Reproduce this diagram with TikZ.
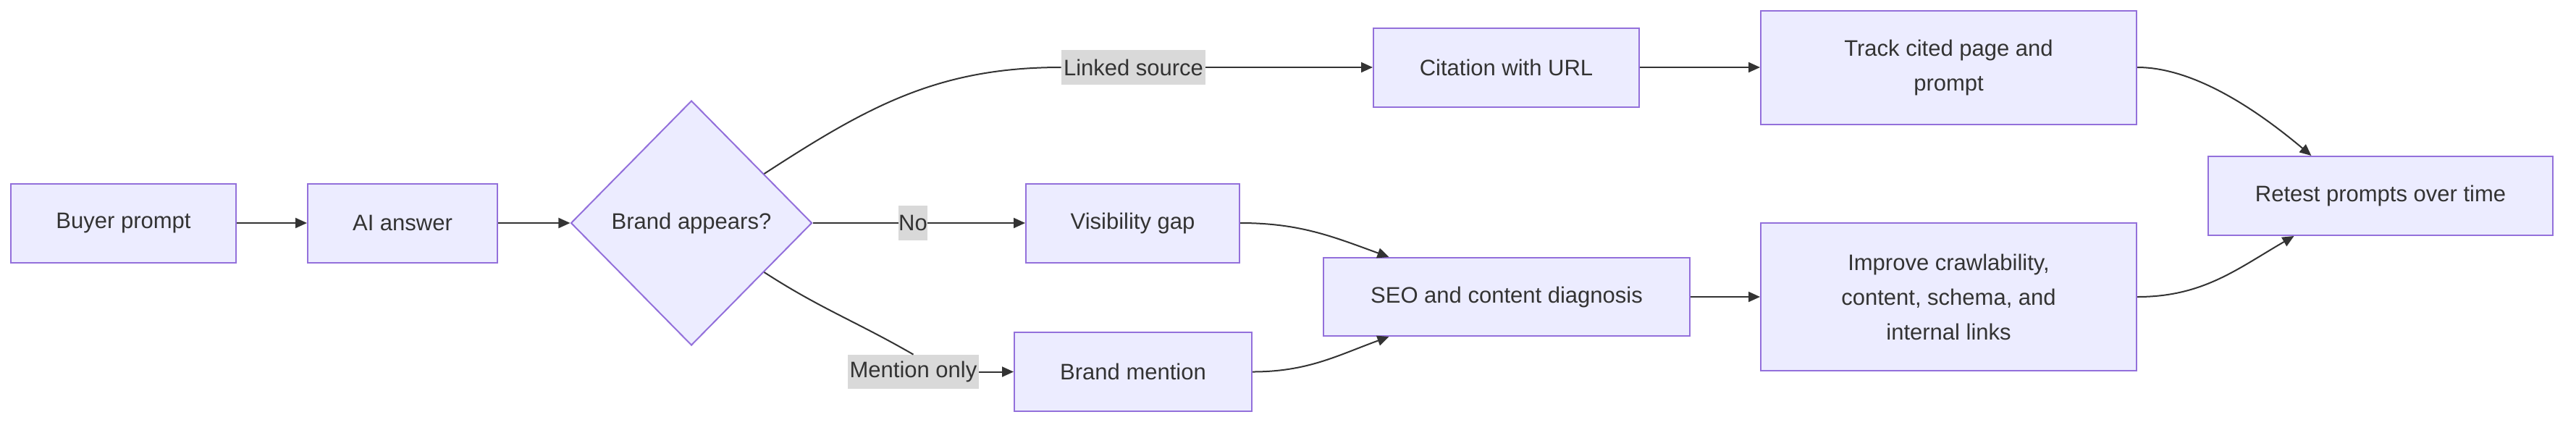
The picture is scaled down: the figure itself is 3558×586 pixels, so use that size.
\documentclass[tikz,border=0pt]{standalone}
\usepackage{fontspec}
\setmainfont{Liberation Sans}
\usetikzlibrary{shapes.geometric,arrows.meta,calc}
\definecolor{boxfill}{HTML}{ECECFF}
\definecolor{boxline}{HTML}{9370DB}
\definecolor{ink}{HTML}{333333}
\definecolor{labelfill}{HTML}{D9D9D9}

\begin{document}
\begin{tikzpicture}[x=0.5pt,y=-0.5pt,
        font=\fontsize{15.5}{24}\selectfont, text=ink,
        box/.style={draw=boxline,fill=boxfill,line width=1pt,inner sep=0pt,align=center},
        lbl/.style={fill=labelfill,inner sep=0pt},
        ln/.style={draw=ink,line width=1pt},
        arr/.style={ln,-{Triangle[length=8pt,width=7pt]}}]
        \useasboundingbox (0,0) rectangle (3558,586);
        % main row
        \node[box,minimum width=155.5pt,minimum height=54.5pt] (buyer) at (170.5,308) {Buyer prompt};
        \node[box,minimum width=131pt,minimum height=54.5pt] (ai) at (556,308) {AI answer};
        \node[box,diamond,minimum width=166.5pt,minimum height=169pt] (brand) at (955,308) {Brand appears?};
        % branches
        \node[lbl,minimum width=99.5pt,minimum height=24pt] (linked) at (1565.5,93) {Linked source};
        \node[lbl,minimum width=20pt,minimum height=24pt] (no) at (1261,308) {No};
        \node[lbl,minimum width=90.5pt,minimum height=23.5pt] (mention) at (1261.5,513.5) {Mention only};
        \node[box,minimum width=183.5pt,minimum height=54.5pt] (cite) at (2080.5,93) {Citation with URL};
        \node[box,minimum width=147.5pt,minimum height=54.5pt] (vis) at (1564.5,308) {Visibility gap};
        \node[box,minimum width=164pt,minimum height=54.5pt] (bmention) at (1565,513.5) {Brand mention};
        \node[box,minimum width=253pt,minimum height=54pt] (seo) at (2081,410) {SEO and content diagnosis};
        \node[box,minimum width=259.5pt,minimum height=78.5pt] (track) at (2691.5,93) {Track cited page and\\prompt};
        \node[box,minimum width=259.5pt,minimum height=102pt] (improve) at (2691.5,410) {Improve crawlability,\\content, schema, and\\internal links};
        \node[box,minimum width=238pt,minimum height=54.5pt] (retest) at (3288,270.5) {Retest prompts over time};

        \draw[arr] (buyer) -- (ai);
        \draw[arr] (ai) -- (brand);
        \draw[ln] ($(brand.north)!0.6!(brand.east)$) to[out=33,in=180] (linked.west);
        \draw[arr] (linked) -- (cite);
        \draw[ln] (brand.east) -- (no.west);
        \draw[arr] (no) -- (vis);
        \draw[ln] ($(brand.south)!0.6!(brand.east)$) to[out=-33,in=150] (mention.north);
        \draw[arr] (mention) -- (bmention);
        \draw[arr] (vis.east) to[out=0,in=160] ($(seo.north west)!0.18!(seo.north east)$);
        \draw[arr] (bmention.east) to[out=0,in=-160] ($(seo.south west)!0.18!(seo.south east)$);
        \draw[arr] (cite) -- (track);
        \draw[arr] (seo) -- (improve);
        \draw[arr] (track.east) to[out=0,in=140,looseness=0.8] ($(retest.north west)!0.3!(retest.north east)$);
        \draw[arr] (improve.east) to[out=0,in=-150] ($(retest.south west)!0.25!(retest.south east)$);
    \end{tikzpicture}
\end{document}
